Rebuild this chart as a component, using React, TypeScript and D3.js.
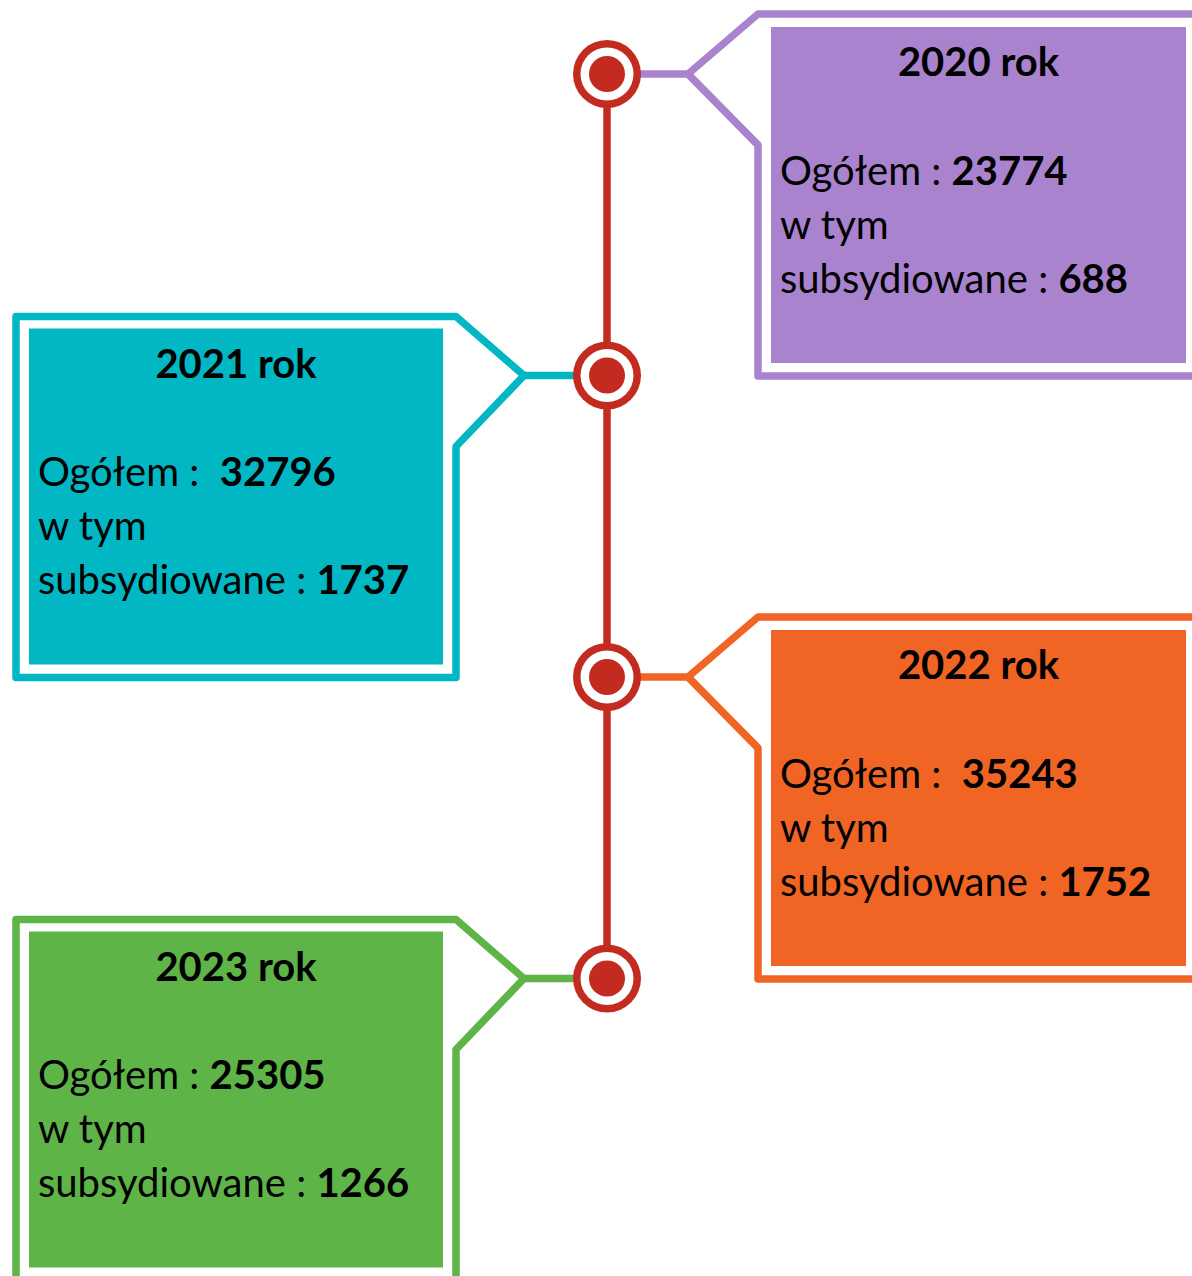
import { useEffect, useRef } from 'react';
import * as d3 from 'd3';

const years = ['2020', '2021', '2022', '2023'];
const totals = ['23774', '32796', '35243', '25305'];
const subsidised = ['688', '1737', '1752', '1266'];
const totalSeparators = [' ', '  ', '  ', ' '];
const boxColors = ['#AA83CF', '#02B7C4', '#F06424', '#5EB447'];
const lineColor = '#C42B20';

const WIDTH = 1192;
const HEIGHT = 1276;

function Timeline() {
    const chartRef = useRef<SVGSVGElement | null>(null);

    useEffect(() => {
        drawTimeline();
    }, []);

    function drawTimeline() {
        const svg = d3.select(chartRef.current);
        svg.selectAll('*').remove();

        const cx = 607;
        const y = d3.scalePoint<string>().domain(years).range([74, 978.5]);

        const font = 'Lato, "Noto Sans", sans-serif';
        const fontSize = 40;

        years.forEach((year, i) => {
            const cy = y(year) as number;
            const color = boxColors[i];
            const right = i % 2 === 0;
            const g = svg.append('g');

            let outline: string;
            let fillX: number;
            let fillW: number;
            let connectorEnd: number;
            if (right) {
                const vx = cx + 81;
                const bx = 758;
                outline = `M1210,${cy - 60} L${bx},${cy - 60} L${vx},${cy} L${bx},${cy + 71} L${bx},${cy + 302} L1210,${cy + 302}`;
                fillX = 771;
                fillW = 415;
                connectorEnd = vx;
            } else {
                const vx = cx - 83;
                const bx = 456;
                outline = `M${vx},${cy} L${bx},${cy - 59} L16,${cy - 59} L16,${cy + 302} L${bx},${cy + 302} L${bx},${cy + 71} Z`;
                fillX = 29;
                fillW = 414;
                connectorEnd = vx;
            }

            g.append('path')
                .attr('d', outline)
                .attr('fill', 'none')
                .attr('stroke', color)
                .attr('stroke-width', 7.5)
                .attr('stroke-linejoin', 'round');

            g.append('line')
                .attr('x1', cx)
                .attr('x2', connectorEnd)
                .attr('y1', cy)
                .attr('y2', cy)
                .attr('stroke', color)
                .attr('stroke-width', 7.5);

            const fillY = cy - 47;
            g.append('rect')
                .attr('x', fillX)
                .attr('y', fillY)
                .attr('width', fillW)
                .attr('height', 336)
                .attr('fill', color);

            g.append('text')
                .attr('x', fillX + fillW / 2)
                .attr('y', fillY + 49)
                .attr('text-anchor', 'middle')
                .attr('font-family', font)
                .attr('font-weight', 700)
                .attr('font-size', fontSize)
                .attr('fill', '#000')
                .text(`${year} rok`);

            const tx = fillX + 9;
            const line1 = g.append('text')
                .attr('x', tx)
                .attr('y', fillY + 157.5)
                .attr('font-family', font)
                .attr('font-size', fontSize)
                .attr('fill', '#000')
                .style('white-space', 'pre');
            line1.append('tspan').text(`Ogółem :${totalSeparators[i]}`);
            line1.append('tspan').attr('font-weight', 700).text(totals[i]);

            g.append('text')
                .attr('x', tx)
                .attr('y', fillY + 211.5)
                .attr('font-family', font)
                .attr('font-size', fontSize)
                .attr('fill', '#000')
                .text('w tym');

            const line3 = g.append('text')
                .attr('x', tx)
                .attr('y', fillY + 265.5)
                .attr('font-family', font)
                .attr('font-size', fontSize)
                .attr('fill', '#000')
                .style('white-space', 'pre');
            line3.append('tspan').text('subsydiowane : ');
            line3.append('tspan').attr('font-weight', 700).text(subsidised[i]);
        });

        // vertical timeline
        svg.append('line')
            .attr('x1', cx)
            .attr('x2', cx)
            .attr('y1', y(years[0]) as number)
            .attr('y2', y(years[years.length - 1]) as number)
            .attr('stroke', lineColor)
            .attr('stroke-width', 7.5);

        const nodes = svg.selectAll('.node')
            .data(years)
            .enter()
            .append('g')
            .attr('class', 'node')
            .attr('transform', (d) => `translate(${cx},${y(d)})`);

        nodes.append('circle').attr('r', 34).attr('fill', lineColor);
        nodes.append('circle').attr('r', 26.5).attr('fill', '#fff');
        nodes.append('circle').attr('r', 18).attr('fill', lineColor);
    }

    return (
        <svg
            ref={chartRef}
            width={WIDTH}
            height={HEIGHT}
            style={{ position: 'absolute', left: 0, top: 0, background: '#fff' }}
        ></svg>
    );
}

export default function App() {
    return <Timeline />;
}
